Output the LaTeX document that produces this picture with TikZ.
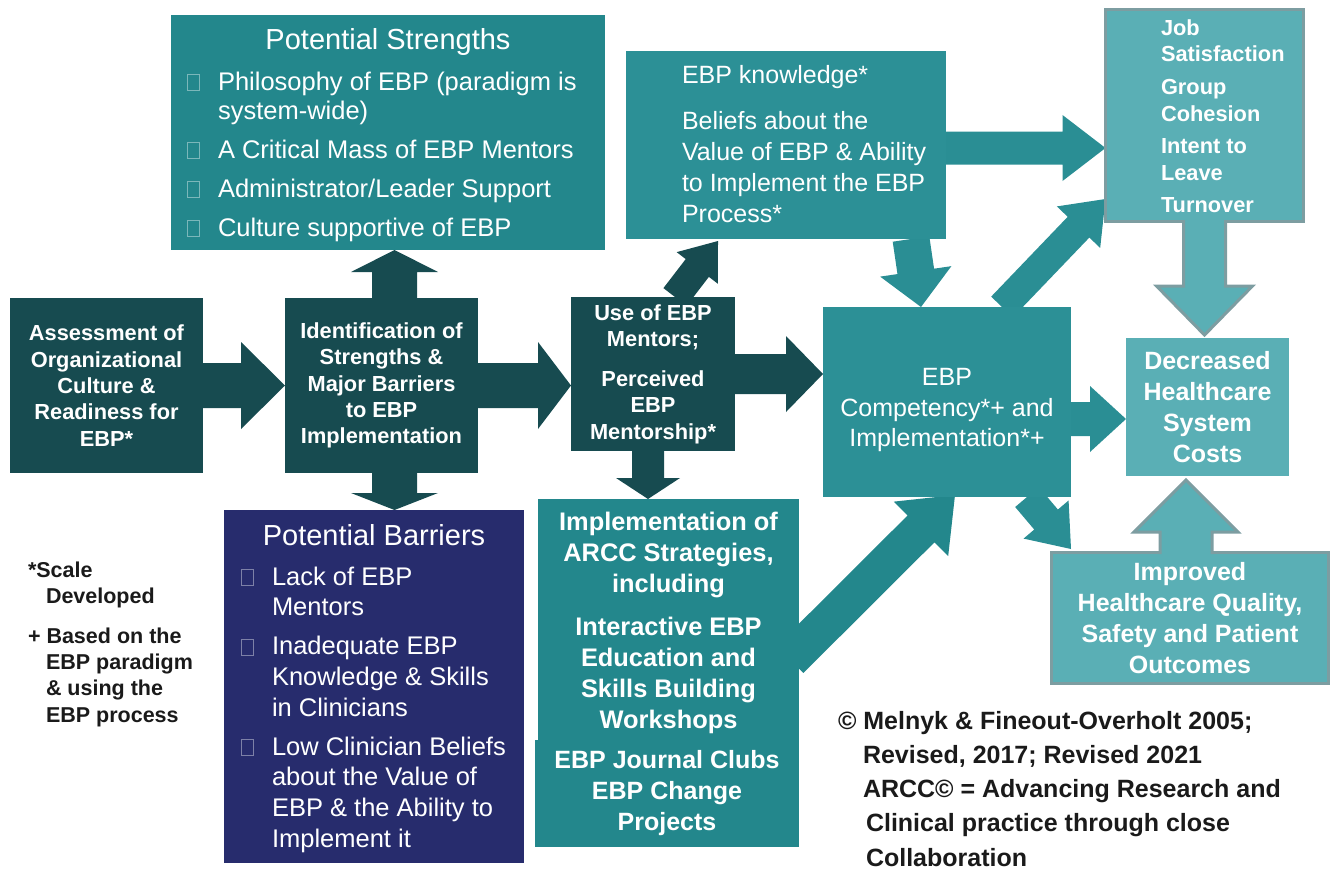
\documentclass[tikz,border=0pt]{standalone}
\usepackage{fontspec}
\setmainfont{Liberation Sans}
\usetikzlibrary{calc}
\pgfdeclarelayer{bg}
\pgfsetlayers{bg,main}

% palette
\definecolor{ebpdark}{HTML}{174B50}
\definecolor{ebpmid}{HTML}{23878C}
\definecolor{ebpteal}{HTML}{2C9096}
\definecolor{ebparrow}{HTML}{2A8E94}
\definecolor{ebpnavy}{HTML}{272C6D}
\definecolor{ebplight}{HTML}{5AAFB5}
\definecolor{ebprim}{HTML}{7D9DA1}
\definecolor{ebpink}{HTML}{1A1A1A}

% type sizes (1pt = one unit of the drawing)
\newcommand\ftitle{\fontsize{29}{34}\selectfont}
\newcommand\flistS{\fontsize{25.5}{29.3}\selectfont}
\newcommand\flistB{\fontsize{25.5}{30.6}\selectfont}
\newcommand\fplain{\fontsize{25}{30.6}\selectfont}
\newcommand\fknow{\fontsize{25}{31}\selectfont}
\newcommand\fsmallbold{\fontsize{21.8}{26.3}\selectfont\bfseries}
\newcommand\fbigbold{\fontsize{25}{31}\selectfont\bfseries}
\newcommand\fimplbold{\fontsize{25.4}{31}\selectfont\bfseries}
\newcommand\fnote{\fontsize{21.5}{26.3}\selectfont\bfseries}
\newcommand\fcopy{\fontsize{25}{34.3}\selectfont\bfseries}

% hollow square bullet
\newcommand\tofu[1]{\textcolor{white!40!#1}{\fboxsep=0pt\fboxrule=1pt\fbox{\rule{0pt}{15pt}\hspace{11pt}}}}
% one bulleted entry with hanging indent (lines broken with \newline)
\newcommand\bitem[2]{\par\hangindent=31pt\hangafter=1\noindent\makebox[31pt][l]{\tofu{#1}}#2\par}

% block arrow: [fill style]{from}{to}{half shaft}{half head}{head length}
\newcommand\blockarrow[6][]{%
  \coordinate (ba-t) at (#3);
  \coordinate (ba-h) at ($(#3)!#6!(#2)$);
  \coordinate (ba-1) at ($(#2)!#4!90:(#3)$);
  \coordinate (ba-2) at ($(ba-h)!#4!-90:(#2)$);
  \coordinate (ba-3) at ($(ba-h)!#5!-90:(#2)$);
  \coordinate (ba-4) at ($(ba-h)!#5!90:(#2)$);
  \coordinate (ba-5) at ($(ba-h)!#4!90:(#2)$);
  \coordinate (ba-6) at ($(#2)!#4!-90:(#3)$);
  \fill[#1] (ba-1) -- (ba-2) -- (ba-3) -- (ba-t) -- (ba-4) -- (ba-5) -- (ba-6) -- cycle;
}
% outline of the last block arrow, left open at its tail
\newcommand\arrowrim[1]{\draw[#1] (ba-1) -- (ba-2) -- (ba-3) -- (ba-t) -- (ba-4) -- (ba-5) -- (ba-6);}

\begin{document}
\begin{tikzpicture}[x=1pt, y=-1pt,
  box/.style={rectangle, inner sep=0pt, outer sep=0pt, text=white, align=center},
  sized/.style 2 args={minimum width=#1, minimum height=#2},
  rimbox/.style={draw=ebprim, line width=3pt},
  rim/.style={draw=ebprim, line width=3pt, line join=miter},
  freetext/.style={inner sep=0pt, outer sep=0pt, anchor=base west},
]
\useasboundingbox (0,0) rectangle (1331,871);

% ---- boxes ----
\node[box, sized={193pt}{175pt}, fill=ebpdark, font=\fsmallbold] (assess) at (106.5,385.5)
  {Assessment of\\Organizational\\Culture \&\\Readiness for\\EBP*};
\node[box, sized={193pt}{175pt}, fill=ebpdark, font=\fsmallbold] (ident) at (381.5,385.5)
  {Identification of\\Strengths \&\\Major Barriers\\to EBP\\Implementation};
\node[box, sized={164pt}{154pt}, fill=ebpdark, font=\fsmallbold] (use) at (653,374)
  {Use of EBP\\Mentors;\\[14pt]Perceived\\EBP\\Mentorship*};
\node[box, sized={434pt}{235pt}, fill=ebpmid] (strengths) at (388,132.5) {};
\node[box, sized={300pt}{353pt}, fill=ebpnavy] (barriers) at (374,686.5) {};
\node[box, sized={320pt}{188pt}, fill=ebpteal] (knowledge) at (786,145) {};
\node[box, sized={248pt}{190pt}, fill=ebpteal] (comp) at (947,402) {};
\node[box, font=\fplain] (comp-text) at (947,410)
  {EBP\\Competency*+ and\\Implementation*+};
\node[box, sized={198pt}{212pt}, fill=ebplight, rimbox] (job) at (1204.5,115.5) {};
\node[box, sized={163pt}{138pt}, fill=ebplight, font=\fbigbold] (decr) at (1207.5,407)
  {Decreased\\Healthcare\\System\\Costs};
\node[box, sized={277pt}{131pt}, fill=ebplight, rimbox, font=\fbigbold] (impr) at (1190,618)
  {Improved\\Healthcare Quality,\\Safety and Patient\\Outcomes};
\node[box, sized={264pt}{107pt}, fill=ebpmid, font=\fbigbold] (implb) at (667,793.5)
  {EBP Journal Clubs\\EBP Change\\Projects};
\node[box, sized={261pt}{241pt}, fill=ebpmid, font=\fimplbold] (impl) at (668.5,619.5)
  {\rule{0pt}{26pt}Implementation of\\ARCC Strategies,\\including\\[12pt]Interactive EBP\\Education and\\Skills Building\\Workshops};

% ---- texts set inside the list boxes ----
\node[inner sep=0pt, anchor=base, font=\ftitle, text=white] (strengths-title) at (388,49) {Potential Strengths};
\node[freetext, font=\flistS, text=white] (strengths-list) at (187,90) {\parbox[t]{405pt}{\raggedright
  \bitem{ebpmid}{Philosophy of EBP (paradigm is\newline system-wide)}\vspace{9.6pt}
  \bitem{ebpmid}{A Critical Mass of EBP Mentors}\vspace{9.6pt}
  \bitem{ebpmid}{Administrator/Leader Support}\vspace{9.6pt}
  \bitem{ebpmid}{Culture supportive of EBP}}};

\node[inner sep=0pt, anchor=base, font=\ftitle, text=white] (barriers-title) at (374,545) {Potential Barriers};
\node[freetext, font=\flistB, text=white] (barriers-list) at (241,585) {\parbox[t]{280pt}{\raggedright
  \bitem{ebpnavy}{Lack of EBP\newline Mentors}\vspace{8.6pt}
  \bitem{ebpnavy}{Inadequate EBP\newline Knowledge \& Skills\newline in Clinicians}\vspace{8.6pt}
  \bitem{ebpnavy}{Low Clinician Beliefs\newline about the Value of\newline EBP \& the Ability to\newline Implement it}}};

\node[freetext, font=\fknow, text=white] (knowledge-text) at (682,83) {\parbox[t]{260pt}{\raggedright
  EBP knowledge*\\[15pt]Beliefs about the\\Value of EBP \& Ability\\to Implement the EBP\\Process*}};

\node[freetext, font={\fontsize{21.8}{26.8}\selectfont\bfseries}, text=white] (job-text) at (1161,35) {\parbox[t]{140pt}{\raggedright
  Job\\Satisfaction\\[5.7pt]Group\\Cohesion\\[5.7pt]Intent to\\Leave\\[5.7pt]Turnover}};

% ---- notes ----
\node[freetext, font=\fnote, text=ebpink] (note-scale) at (28,577) {\parbox[t]{190pt}{\raggedright
  *Scale\\\hspace*{18pt}Developed\\[13.7pt]+ Based on the\\\hspace*{18pt}EBP paradigm\\\hspace*{18pt}\& using the\\\hspace*{18pt}EBP process}};
\node[freetext, font=\fcopy, text=ebpink] (note-copy) at (838,729) {\parbox[t]{480pt}{\raggedright
  © Melnyk \& Fineout-Overholt 2005;\\\hspace*{25pt}Revised, 2017; Revised 2021\\\hspace*{25pt}ARCC© = Advancing Research and\\\hspace*{28pt}Clinical practice through close\\\hspace*{28pt}Collaboration}};

% ---- block arrows behind the boxes ----
\begin{pgfonlayer}{bg}
  \blockarrow[fill=ebpdark]{assess.east}{ident.west}{22.5pt}{43.5pt}{44pt}
  \coordinate (p2) at (ident.east -| use.west);
  \blockarrow[fill=ebpdark]{ident.east}{p2}{22.5pt}{43.5pt}{33pt}
  \coordinate (p3) at (use.east -| comp.west);
  \blockarrow[fill=ebpdark]{use.east}{p3}{20pt}{38pt}{37pt}
  \coordinate (p4s) at ([xshift=13pt]ident.north);
  \coordinate (p4t) at (p4s |- strengths.south);
  \blockarrow[fill=ebpdark]{p4s}{p4t}{22.5pt}{43.5pt}{22pt}
  \coordinate (p5s) at ([xshift=13pt]ident.south);
  \coordinate (p5t) at (p5s |- barriers.north);
  \blockarrow[fill=ebpdark]{p5s}{p5t}{22.5pt}{43.5pt}{17pt}
  \coordinate (p6s) at ([xshift=-5pt]use.south);
  \coordinate (p6t) at (p6s |- impl.north);
  \blockarrow[fill=ebpdark]{p6s}{p6t}{16pt}{32pt}{21pt}
  \coordinate (p7s) at ([xshift=22pt]use.north);
  \coordinate (p7t) at ([xshift=92pt,yshift=-2pt]knowledge.south west);
  \blockarrow[fill=ebpdark]{p7s}{p7t}{14.6pt}{26pt}{34pt}
  \coordinate (p8s) at ([xshift=125pt]knowledge.south);
  \coordinate (p8t) at ([xshift=-26pt]comp.north);
  \blockarrow[fill=ebparrow]{p8s}{p8t}{18.5pt}{36pt}{36pt}
  \coordinate (p9s) at ([yshift=-3pt]knowledge.east);
  \coordinate (p9t) at (p9s -| job.west);
  \blockarrow[fill=ebparrow]{p9s}{p9t}{16.5pt}{33pt}{43pt}
  \coordinate (p10s) at ([xshift=55pt]comp.north);
  \coordinate (p10t) at ([yshift=22.5pt]job.south west);
  \blockarrow[fill=ebparrow]{p10s}{p10t}{15pt}{30pt}{39pt}
  \coordinate (p11s) at ([yshift=-17pt]comp.east);
  \coordinate (p11t) at (p11s -| decr.west);
  \blockarrow[fill=ebparrow]{p11s}{p11t}{17pt}{33pt}{36pt}
  \coordinate (p12s) at ([xshift=80pt]comp.south);
  \coordinate (p12t) at ([xshift=19.5pt,yshift=3.5pt]impr.north west);
  \blockarrow[fill=ebparrow]{p12s}{p12t}{15.5pt}{29.5pt}{38.6pt}
  \coordinate (p13s) at ([xshift=-9pt,yshift=-40pt]impl.east);
  \coordinate (p13t) at ([xshift=8pt,yshift=2pt]comp.south);
  \blockarrow[fill=ebpmid]{p13s}{p13t}{19pt}{38.5pt}{48pt}
\end{pgfonlayer}

% ---- outlined arrows joined to their boxes ----
\coordinate (p14s) at ([yshift=1.5pt]job.south);
\coordinate (p14t) at ($(p14s |- decr.north)+(0,-3)$);
\blockarrow[fill=ebplight]{p14s}{p14t}{21pt}{48pt}{49pt}
\arrowrim{rim}
\coordinate (p15s) at ([xshift=-4pt,yshift=-1.5pt]impr.north);
\coordinate (p15t) at ($(p15s |- decr.south)+(0,4)$);
\blockarrow[fill=ebplight]{p15s}{p15t}{26pt}{52pt}{52pt}
\arrowrim{rim}
\end{tikzpicture}
\end{document}
